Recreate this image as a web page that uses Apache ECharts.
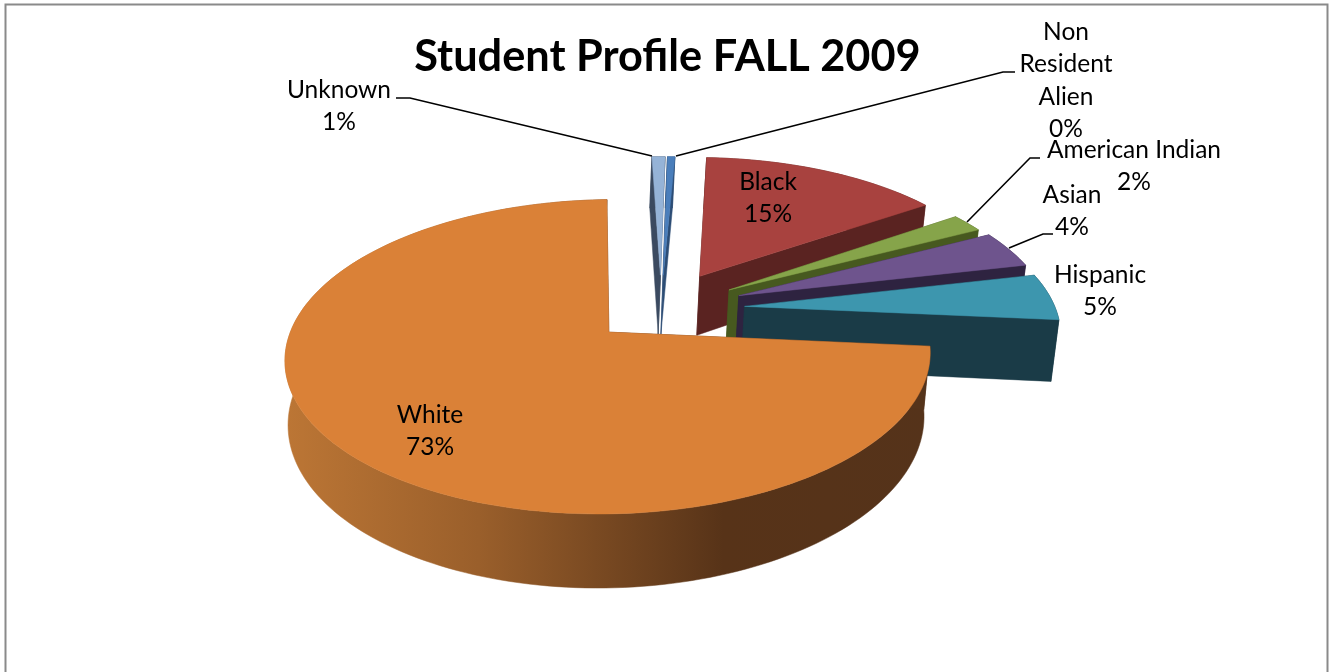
<!DOCTYPE html>
<html><head><meta charset="utf-8">
<style>html,body{margin:0;padding:0;background:#fff}#c{width:1330px;height:672px}</style>
<script src="https://cdn.jsdelivr.net/npm/echarts@6/dist/echarts.min.js"></script>
</head><body><div id="c"></div>
<script>
// Data, clockwise from the top of the pie
const categories = ['Non\nResident\nAlien','Black','American Indian','Asian','Hispanic','White','Unknown'];
const values = [0.45, 14.7, 2, 4, 5, 73, 0.8];

// Style and layout
const topColors = ['#4A7EBB','#A8423F','#86A44A','#6E548D','#3D96AE','#DA8137','#95B3D7'];
const wallColors = ['#2C4D75','#5A2321','#47591F','#2E2340','#1A3B47','#55331A','#3B4A60'];
const explode = [0.24,0.265,0.26,0.27,0.27,0.225,0.24];
const labelCenters = [[1066,80.5],[768,198],[1134,166],[1072,211],[1100,291],[430,431],[339,106]];
const leaders = [[[1015,72],[1003,72],[676,156]],null,[[1040,158],[1030,158],[967,222]],
  [[1053,234],[1043,234],[1009,248]],null,null,[[396,98],[410,98],[652,156]]];
const geo = {cx:661, cy:309, R:311, k:0.47, p:0.153, D:61, q:0.0143, vanishX:500, start:1};
const font = '24.5px Lato, "Open Sans", sans-serif';

const total = values.reduce((a,b)=>a+b,0);
const rad = Math.PI/180;
function project(u,v,z){
  const s = 1/(1-geo.p*v);
  const x = geo.cx+geo.R*u*s;
  return [geo.vanishX+(x-geo.vanishX)*(1-geo.q*z), geo.cy+geo.R*geo.k*v*s+geo.D*z*s];
}
const slices = [];
let acc = geo.start;
values.forEach((val,i)=>{
  const sweep = val/total*360, a0 = acc, a1 = acc+sweep, m = (a0+a1)/2;
  acc = a1;
  slices.push({i,a0,a1,m,u0:explode[i]*Math.sin(m*rad),v0:-explode[i]*Math.cos(m*rad)});
});
function pt(s,deg,z,r){
  return project(s.u0+r*Math.sin(deg*rad), s.v0-r*Math.cos(deg*rad), z);
}
function arc(s,z){
  const pts=[], n=Math.max(2,Math.ceil((s.a1-s.a0)/1.5));
  for(let j=0;j<=n;j++) pts.push(pt(s,s.a0+(s.a1-s.a0)*j/n,z,1));
  return pts;
}
// painter's order: far slices first
const order = slices.slice().sort((a,b)=>a.v0-b.v0).map(s=>s.i);
const whiteWall = new echarts.graphic.LinearGradient(285,0,930,0,[
  {offset:0,color:'#BC7635'},{offset:0.3,color:'#9A5F2B'},{offset:0.68,color:'#573318'},{offset:1,color:'#55331A'}],true);

function poly(points,fill){
  return {type:'polygon',shape:{points},style:{fill,stroke:fill,lineWidth:0.5}};
}
function renderItem(params,api){
  const s = slices[api.value(0)], i = s.i;
  const wall = categories[i]==='White' ? whiteWall : wallColors[i];
  const topArc = arc(s,0), botArc = arc(s,1);
  const children = [];
  children.push(poly(topArc.concat(botArc.slice().reverse()),wall));
  children.push(poly([pt(s,s.a0,0,0),pt(s,s.a0,0,1),pt(s,s.a0,1,1),pt(s,s.a0,1,0)],wallColors[i]));
  children.push(poly([pt(s,s.a1,0,0),pt(s,s.a1,0,1),pt(s,s.a1,1,1),pt(s,s.a1,1,0)],wallColors[i]));
  children.push(poly([pt(s,s.a0,0,0)].concat(topArc),topColors[i]));
  if(leaders[i]) children.push({type:'polyline',z2:50,shape:{points:leaders[i]},style:{fill:null,stroke:'#000',lineWidth:1.6}});
  children.push({type:'text',z2:60,style:{
    text:categories[i]+'\n'+Math.round(values[i]/total*100)+'%',
    x:labelCenters[i][0],y:labelCenters[i][1],align:'center',verticalAlign:'middle',
    font,lineHeight:32.3,fill:'#000'}});
  return {type:'group',children};
}
const chart = echarts.init(document.getElementById('c'),null,{renderer:'canvas'});
chart.setOption({
  animation:false,
  backgroundColor:'#fff',
  title:{text:'Student Profile FALL 2009',left:662.5,top:31,textAlign:'center',
    textStyle:{fontFamily:'Lato, "Open Sans", sans-serif',fontWeight:'bold',fontSize:43.3,color:'#000'}},
  graphic:[{type:'rect',z:-1,shape:{x:5.5,y:4.5,width:1322,height:690},style:{fill:'#fff',stroke:'#8A8A8A',lineWidth:2}}],
  series:[{type:'custom',coordinateSystem:'none',renderItem,silent:true,
    clip:false,data:order.map(i=>[slices.findIndex(s=>s.i===i)])}]
});
</script></body></html>
